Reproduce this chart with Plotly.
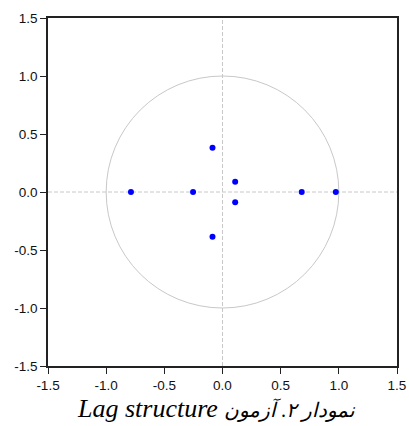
import plotly.graph_objects as go

root_real = [-0.787, -0.253, 0.681, 0.974, -0.086, -0.086, 0.109, 0.109]
root_imag = [0.0, 0.0, 0.0, 0.0, 0.382, -0.385, 0.089, -0.089]
tick_vals = [-1.5, -1.0, -0.5, 0.0, 0.5, 1.0, 1.5]
tick_text = ["-1.5", "-1.0", "-0.5", "0.0", "0.5", "1.0", "1.5"]
title_latin = "Lag structure"
title_persian = "نمودار ۲. آزمون"

fig = go.Figure()
fig.add_trace(go.Scatter(x=root_real, y=root_imag, mode="markers",
                         marker=dict(color="#0000ff", size=6), showlegend=False))

fig.add_shape(type="circle", xref="x", yref="y", x0=-1, y0=-1, x1=1, y1=1,
              line=dict(color="#c8c8c8", width=1), layer="below")
fig.add_shape(type="line", xref="x", yref="y", x0=-1.5, x1=1.5, y0=0, y1=0,
              line=dict(color="#c8c8c8", width=1, dash="4px,2px"), layer="below")
fig.add_shape(type="line", xref="x", yref="y", x0=0, x1=0, y0=-1.5, y1=1.5,
              line=dict(color="#c8c8c8", width=1, dash="4px,2px"), layer="below")

axis_common = dict(range=[-1.5, 1.5], tickvals=tick_vals, ticktext=tick_text,
                   showgrid=False, zeroline=False, showline=True, mirror=True,
                   linecolor="#222222", linewidth=1.5, ticks="outside", ticklen=6,
                   tickcolor="#222222", automargin=False,
                   tickfont=dict(family="Liberation Sans, Arial", size=13.5, color="#111111"))
fig.update_xaxes(**axis_common)
fig.update_yaxes(**axis_common)

title_html = (f"<i>{title_latin} </i>"
              f"<span style='font-size:20px'><i>{title_persian}</i></span>")
fig.add_annotation(text=title_html, xref="paper", yref="paper", x=0.5, y=0,
                   yshift=-42, xshift=-6, showarrow=False, xanchor="center", yanchor="middle",
                   font=dict(family="Liberation Serif, Times New Roman", size=26, color="#000000"))

fig.update_layout(width=409, height=426, margin=dict(l=48, r=12, t=18, b=60),
                  plot_bgcolor="white", paper_bgcolor="white")
fig.write_html("out.html", config={"displayModeBar": False},
               post_script="document.body.style.margin='0';document.body.style.overflow='hidden';")
